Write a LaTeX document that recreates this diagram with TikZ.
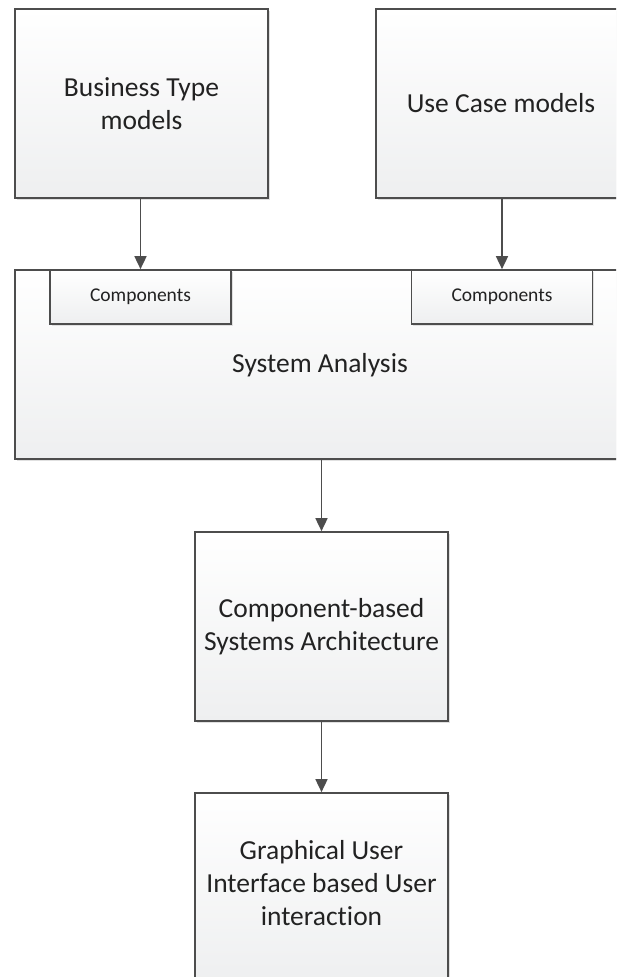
\documentclass[tikz,border=0pt]{standalone}
\usepackage{fontspec}
\setmainfont[RawFeature=-liga]{Carlito}
\usetikzlibrary{arrows.meta,shadows}
\definecolor{edge}{HTML}{4D4D4D}
\definecolor{boxbot}{HTML}{EEEFF0}
\definecolor{txt}{HTML}{222222}
\tikzset{
  box/.style={draw=edge, line width=1.7pt, rectangle, top color=white, bottom color=boxbot,
    drop shadow={shadow xshift=1.5pt, shadow yshift=-1.5pt, fill=black!12, opacity=1},
    inner sep=0pt, align=center, text=txt},
  bigtext/.style={font=\fontsize{27.5}{33}\selectfont},
  smalltext/.style={font=\fontsize{19.5}{24}\selectfont},
  arr/.style={draw=edge, line width=1.7pt, -{Triangle[length=13pt,width=12pt]}}
}
\begin{document}
\begin{tikzpicture}[x=1pt,y=-1pt]
\useasboundingbox[fill=white] (0,0) rectangle (616,977);
\clip (0,0) rectangle (616,977);
\node[box,bigtext,minimum width=253pt,minimum height=189pt] (btm) at (141.5,103.5) {Business Type\\models};
\node[box,bigtext,minimum width=270pt,minimum height=189pt] (ucm) at (511,103.5) {};
\node[txt,bigtext] (ucmt) at (501,103.5) {Use Case models};
\node[box,bigtext,minimum width=630pt,minimum height=189pt] (sys) at (330,364.5) {};
\node[txt,bigtext] (syst) at (320,365) {System Analysis};
\node[box,smalltext,minimum width=181pt,minimum height=54pt] (c1) at (140.5,297) {Components};
\node[box,smalltext,minimum width=181pt,minimum height=54pt] (c2) at (502,297) {Components};
\node[box,bigtext,minimum width=253pt,minimum height=189pt] (cbsa) at (321.5,626.5) {Component-based\\Systems Architecture};
\node[box,bigtext,minimum width=253pt,minimum height=189pt] (gui) at (321.5,887.5) {};
\node[txt,bigtext,align=center] (guit) at (321.5,883) {Graphical User\\Interface based User\\interaction};
\draw[arr] (btm.south -| c1) -- (c1.north);
\draw[arr] (ucm.south -| c2) -- (c2.north);
\draw[arr] (sys.south -| cbsa) -- (cbsa.north);
\draw[arr] (cbsa.south) -- (gui.north);
\end{tikzpicture}
\end{document}
